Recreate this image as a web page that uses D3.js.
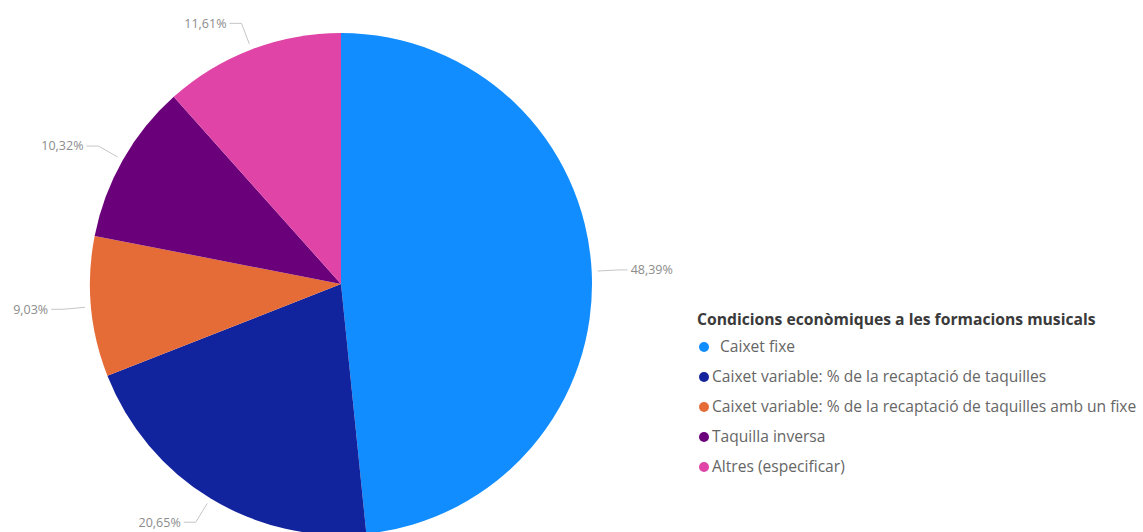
<!DOCTYPE html>
<html>
<head>
<meta charset="utf-8">
<script src="https://cdn.jsdelivr.net/npm/d3@7"></script>
<style>
  html, body { margin: 0; padding: 0; background: #ffffff; }
  svg { display: block; }
</style>
</head>
<body>
<svg id="chart" width="1143" height="532"></svg>
<script>
// Condicions econòmiques a les formacions musicals
const categories = [
  "Caixet fixe",
  "Caixet variable: % de la recaptació de taquilles",
  "Caixet variable: % de la recaptació de taquilles amb un fixe",
  "Taquilla inversa",
  "Altres (especificar)"
];
const values = [48.39, 20.65, 9.03, 10.32, 11.61];
const colors = ["#118DFF", "#12239E", "#E66C37", "#6B007B", "#E044A7"];
const legendTitle = "Condicions econòmiques a les formacions musicals";

const width = 1143, height = 532;
const cx = 341, cy = 284, radius = 251;
const font = "'Open Sans', 'Noto Sans', sans-serif";

const svg = d3.select("#chart");
const fmt = v => d3.format(".2f")(v).replace(".", ",") + "%";

const pie = d3.pie().sort(null).value(d => d.value);
const arcs = pie(categories.map((c, i) => ({ name: c, value: values[i], color: colors[i] })));
const arc = d3.arc().innerRadius(0).outerRadius(radius);

const g = svg.append("g").attr("transform", `translate(${cx},${cy})`);

g.selectAll("path.slice")
  .data(arcs)
  .join("path")
  .attr("class", "slice")
  .attr("d", arc)
  .attr("fill", d => d.data.color);

// Leader lines and value labels
const startArc = d3.arc().innerRadius(radius + 6).outerRadius(radius + 6);
const elbowArc = d3.arc().innerRadius(radius + 28).outerRadius(radius + 28);
const horiz = 12;

arcs.forEach(d => {
  const mid = (d.startAngle + d.endAngle) / 2;
  const right = Math.sin(mid) >= 0;
  const p0 = startArc.centroid(d);
  const p1 = elbowArc.centroid(d);
  const p2 = [p1[0] + (right ? horiz - 4 : -horiz), p1[1]];
  g.append("polyline")
    .attr("points", [p0, p1, p2].map(p => p.join(",")).join(" "))
    .attr("fill", "none")
    .attr("stroke", "#c6c6c6")
    .attr("stroke-width", 1);
  g.append("text")
    .attr("x", p2[0] + (right ? 3 : -3))
    .attr("y", p2[1])
    .attr("dy", "0.35em")
    .attr("text-anchor", right ? "start" : "end")
    .attr("font-family", font)
    .attr("font-size", 12.5)
    .attr("fill", "#8c8c8c")
    .text(fmt(d.data.value));
});

// Legend
const legend = svg.append("g").attr("transform", "translate(697,0)");
legend.append("text")
  .attr("x", 0)
  .attr("y", 320)
  .attr("dy", "0.35em")
  .attr("font-family", font)
  .attr("font-weight", "bold")
  .attr("font-size", 15.7)
  .attr("fill", "#3a3a3a")
  .text(legendTitle);

const rowY = d3.scalePoint().domain(categories).range([347, 467]);

const items = legend.selectAll("g.item")
  .data(categories)
  .join("g")
  .attr("class", "item")
  .attr("transform", d => `translate(0,${rowY(d)})`);

items.append("circle")
  .attr("cx", 7)
  .attr("cy", 0)
  .attr("r", 5)
  .attr("fill", (d, i) => colors[i]);

items.append("text")
  .attr("x", (d, i) => i === 0 ? 23 : 15)
  .attr("y", 0)
  .attr("dy", "0.35em")
  .attr("font-family", font)
  .attr("font-size", 15.6)
  .attr("fill", "#666666")
  .text(d => d);
</script>
</body>
</html>
